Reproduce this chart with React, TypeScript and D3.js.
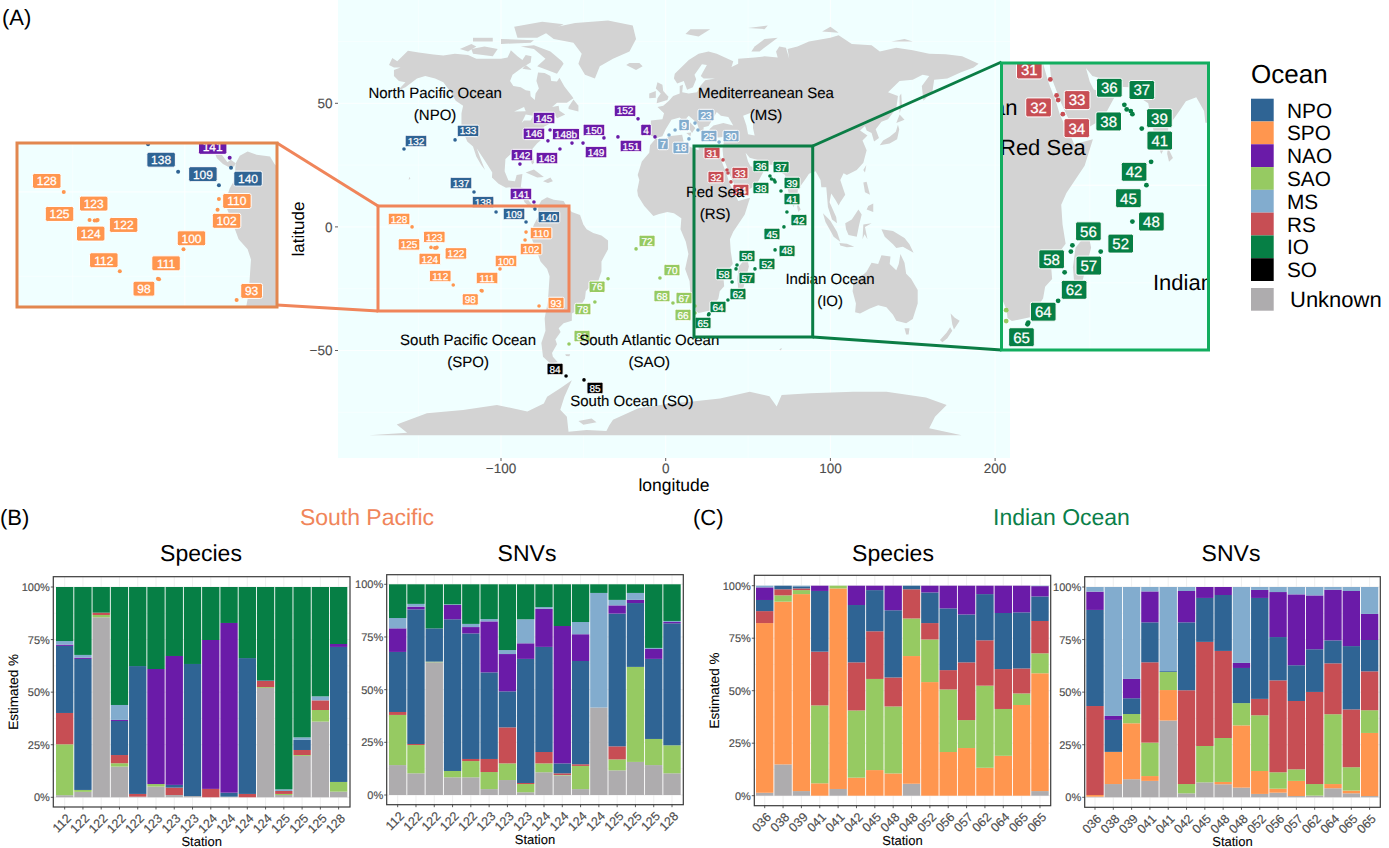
import React from "react";
import * as d3 from "d3";

// ---------- DATA ----------
const oceanKeys = ["NPO", "SPO", "NAO", "SAO", "MS", "RS", "IO", "SO"];
const oceanColors: Record<string, string> = {
  NPO: "#2F6494", SPO: "#FF964F", NAO: "#6A1BA8", SAO: "#96CA62", MS: "#82ACCE",
  RS: "#C74E54", IO: "#067F45", SO: "#000000", Unknown: "#AEACAE",
};
const stackKeys = ["Unknown", "SPO", "SAO", "RS", "NPO", "NAO", "MS", "IO"];

const southPacificStations = ["112","122","122","122","122","123","123","123","124","124","124","124","125","125","125","128"];
const indianStations = ["036","038","039","041","041","042","045","048","048","052","056","057","062","064","065","065"];

const spSpecies = {
  Unknown: [1,2.6,85.6,14.6,.3,5.1,1.1,.6,0,.3,0,52,1.1,19.7,36,2.7],
  SAO: [24.2,.9,1.1,1.6,0,1.2,0,0,0,0,0,.4,.5,.4,5.5,4.6],
  RS: [14.9,0,1.1,3.9,1.3,0,3.5,0,4,0,1.6,2.9,1.4,2.4,4.6,0],
  NPO: [31.9,62.3,0,16.2,60.8,0,1.3,62.8,0,1.9,64.6,.3,0,4.8,0,64.2],
  NAO: [.6,.6,0,.5,0,54.7,61.3,0,70.8,80.7,0,0,0,0,0,1.4],
  MS: [1.7,1.3,0,7.1,0,0,0,0,0,0,0,0,.8,1.2,1.9,0],
  IO: [25.7,32.3,12.2,56.1,37.6,39,32.8,36.6,25.2,17.1,33.8,44.4,96.2,71.5,52,27.1],
};
const spSnvs = {
  Unknown: [14.2,10.3,63,8.4,8.4,2.8,7.1,1.3,10.8,9.3,2.8,41.5,11.7,15.7,14.2,10.3],
  SAO: [23.8,13.4,.3,3,7.7,8.1,7.9,3.9,4.2,.2,11,0,5.2,45.1,12.4,13.3],
  RS: [1.4,.5,0,0,1,6.2,17.1,.5,5.4,.8,.8,0,6.2,0,0,0],
  NPO: [28.5,63.9,15.8,72,59.6,41.1,17.1,58.9,49.9,4.7,49,0,63,30.3,38,57.9],
  NAO: [11.2,1.3,0,6.8,3,24.2,17.7,7.4,18.1,65.2,12.7,0,3.9,1.5,4.7,.6],
  MS: [4.9,1.3,0,.3,1.5,1.1,1.9,11.4,.8,0,5.8,54.4,2.6,3.3,.5,.5],
  IO: [16,9.3,20.9,9.5,18.8,16.5,31.2,16.6,10.8,19.8,17.9,4.1,7.4,4.1,30.2,17.4],
};
const ioSpecies = {
  Unknown: [1.4,14.9,2.2,0,3.2,0,0,0,5.7,0,0,0,0,0,0,2.2],
  SPO: [80.8,77.5,93.8,5.9,95.5,8.6,12.2,10.6,60.8,54.1,20.8,22.7,13.3,19,43.2,56.1],
  SAO: [0,3,1.9,37.1,1.3,32,43.4,31.9,17.9,20.3,29.8,13.3,39.1,22.3,5.5,9.5],
  RS: [5.7,2.9,.8,25.6,0,22.9,22.7,13.8,13.9,7.8,9.2,27.5,21.6,19,11.9,15.4],
  NPO: [5.3,1.7,1,28.9,0,27.3,19.6,32,1.7,14.6,29.4,22.8,22,26.7,26.7,11.7],
  NAO: [6,0,0,2.5,0,9.2,2.1,11.7,0,3.2,10.8,13.7,4,13,12.7,4.9],
  MS: [.8,0,.3,0,0,0,0,0,0,0,0,0,0,0,0,.2],
};
const ioSnvs = {
  Unknown: [.3,6.3,8.6,7.8,36.5,1.9,7.1,6.2,4.6,1.6,2.2,.6,.8,4.3,1.9,.6],
  SPO: [.8,15.3,26.6,2.3,14.5,0,0,1.1,29.6,10.9,1.9,7.2,0,2,1.3,30],
  SAO: [0,0,4.4,15.9,8.6,4.4,17.3,20.9,10.6,26.5,7.8,5.5,5.5,33.2,11.1,10.8],
  RS: [42.3,0,0,38.2,0,44.6,49.5,41.4,0,7.8,43.7,32.5,43.8,24.2,27.5,18.5],
  NPO: [45.7,15.2,7.5,19,.4,32.3,20.9,26.6,16.7,48,20.6,17,20.3,10.9,30.1,14.9],
  NAO: [8.7,1.9,9.2,14.7,0,14.9,5.2,3.8,2.4,3.8,21.4,33.7,25.6,24.1,26.2,12.4],
  MS: [2.2,61.3,43.7,2.1,40,1.9,0,0,36.1,1.4,2.4,3.5,4,1.3,1.9,12.8],
};

const yTickValues = [0, 25, 50, 75, 100];
const lonTicks = [-100, 0, 100, 200];
const latTicks = [-50, 0, 50];
const lonMinor = [-150, -50, 50, 150];
const latMinor = [-75, -25, 25, 75];

// id, ocean, longitude, latitude
const stations: [string, string, number, number][] = [
  ["132","NPO",-158.9,31.5],["133","NPO",-127.9,35.2],["137","NPO",-116.4,14.1],["138","NPO",-103,6],
  ["109","NPO",-84.8,2],["140","NPO",-79.4,7.2],["141","NAO",-80,10.1],["145","NAO",-70.2,39.2],
  ["146","NAO",-71.5,34.8],["148b","NAO",-56.9,33.9],["148","NAO",-64.2,31.5],["150","NAO",-37.5,36],
  ["149","NAO",-50.2,33.9],["151","NAO",-29,36.4],["152","NAO",-16.8,43.7],["4","NAO",-6.5,36.4],
  ["142","NAO",-88.5,25.4],["7","MS",2,37.2],["9","MS",5.7,39.2],["18","MS",14.1,35.6],
  ["23","MS",17.8,42],["25","MS",19.6,39.2],["30","MS",32.4,34.3],["31","RS",34.8,27.1],
  ["32","RS",37.2,23],["33","RS",37.8,21.8],["34","RS",39.6,18.2],["36","IO",63.3,20.6],
  ["38","IO",64.2,19.4],["37","IO",65.8,19],["39","IO",66.4,18.2],["41","IO",70,14.5],
  ["42","IO",73.6,6],["45","IO",71.8,0],["48","IO",66.4,-9.3],["52","IO",54.2,-17],
  ["56","IO",43.3,-15.4],["57","IO",42.7,-17],["58","IO",40.3,-22.3],["62","IO",37.8,-29.6],
  ["64","IO",26.3,-35.2],["65","IO",26,-35.6],["72","SAO",-18,-8.9],["70","SAO",-3.5,-20.7],
  ["76","SAO",-35,-21],["78","SAO",-43,-30.4],["68","SAO",4.4,-30.8],["67","SAO",17.8,-32],
  ["66","SAO",17.8,-34.8],["81","SAO",-58.7,-47.4],["84","SO",-60.5,-60.3],["85","SO",-49.6,-61.9],
  ["128","SPO",-154,0],["123","SPO",-139.3,-8.5],["125","SPO",-142.5,-8.3],["124","SPO",-140.2,-8.5],
  ["122","SPO",-138.9,-8.3],["112","SPO",-129,-23.5],["111","SPO",-111.5,-25.9],["98","SPO",-112,-25.7],
  ["100","SPO",-100.6,-17],["110","SPO",-84.8,-2.1],["102","SPO",-85.4,-5.3],["93","SPO",-76.9,-32],
];

const regionTitles: { lines: string[]; lon: number; lat: number }[] = [
  { lines: ["North Pacific Ocean", "(NPO)"], lon: -140, lat: 54.2 },
  { lines: ["Mediterreanean Sea", "(MS)"], lon: 60.9, lat: 54.2 },
  { lines: ["Red Sea", "(RS)"], lon: 30, lat: 14.1 },
  { lines: ["Indian Ocean", "(IO)"], lon: 99.8, lat: -21.1 },
  { lines: ["South Pacific Ocean", "(SPO)"], lon: -120, lat: -45.7 },
  { lines: ["South Atlantic Ocean", "(SAO)"], lon: -10, lat: -45.7 },
  { lines: ["South Ocean (SO)"], lon: -20.5, lat: -70.4 },
];

type Ring = [number, number][];
const landRings: Ring[] = [
  // North America
  [[-168,65.5],[-166,68.3],[-163,67],[-156.5,71.3],[-150,70.5],[-141,69.7],[-135,69.3],[-128,70],[-120,69.5],[-115,68],[-108,68],[-100,68],[-96,68.5],[-94,71.5],[-90,69],[-87,67.5],[-85,69.5],[-81.5,69],[-82,66.5],[-87,64.5],[-93,61.5],[-94.5,59],[-92.5,57],[-88,56.5],[-85,55.3],[-82.3,55],[-82,52.9],[-79.5,51.3],[-79,54],[-77,56],[-78.5,59],[-77.5,62.5],[-73.5,62.3],[-70,61],[-69.5,59],[-66,58.8],[-64.5,60.3],[-61.5,56.8],[-57,53],[-56,52],[-60,50.2],[-66,50.2],[-69,48.5],[-65,49],[-64.5,47],[-61,45.5],[-66,44],[-67,45],[-70,43.5],[-71,41.5],[-74,40.5],[-76,37],[-76,35],[-78,33.8],[-81,31.5],[-80,26],[-81,25.2],[-82.7,27.8],[-84,30],[-89,30.2],[-90,29],[-94,29.5],[-97.3,27.5],[-97.8,22.5],[-95.5,18.8],[-91.5,18.5],[-90.5,21],[-87,21.4],[-88,16],[-83.5,15.2],[-83.5,11],[-81,8.8],[-79.5,9.5],[-77.3,8.5],[-78,7.5],[-80.3,7.3],[-83,8.3],[-85.7,10],[-87.5,13],[-91.5,14],[-94.5,16],[-97,15.8],[-101.5,17.5],[-105.5,20],[-105.3,22],[-109,26],[-112.5,29.5],[-114.7,31.7],[-112.2,27.2],[-109.7,23],[-112,25],[-115,28.5],[-117,32.5],[-120.5,34.5],[-124,40],[-124,46],[-123,49],[-127.5,51],[-130.5,54.5],[-135,58.5],[-140,60],[-146,61],[-151,60],[-154,58.5],[-158,56.5],[-163,55],[-158,58.5],[-162,59],[-165,61],[-165,63.5],[-161,64.5],[-165,64.5]],
  // South America
  [[-77.3,8.5],[-75.5,10.7],[-72,12],[-68,11],[-62,10.5],[-60,8.3],[-57,6],[-52,4.8],[-50,1],[-48,-1],[-44,-2.5],[-39,-3.5],[-35,-5.5],[-35,-9],[-39,-14],[-39,-18],[-41,-22],[-45,-23.5],[-48.5,-26],[-49,-29],[-53,-33.5],[-57,-35],[-57,-38],[-62,-39],[-65,-41],[-63.8,-42.5],[-67,-45.5],[-66,-47.5],[-69,-51],[-68.5,-52.5],[-65.5,-54.8],[-70,-55.3],[-74.5,-52.5],[-75.5,-47],[-73,-42],[-73.5,-37],[-71.5,-30],[-70.5,-20],[-72,-17],[-76,-14],[-78.5,-9.5],[-81.2,-5],[-80,-3],[-81,-1],[-80,1],[-77.5,4],[-77.5,7]],
  // Africa
  [[-6,35.8],[-2,35],[3,36.8],[10,37.3],[11,34],[15,32.3],[20,31],[20,32.7],[25,31.8],[32,31.2],[32.5,30],[34,26.5],[37.2,21],[38.5,18],[43,12],[44,10.5],[51.2,11.8],[48,5],[41,-2],[39,-5],[39.5,-10],[40.7,-15],[35,-20],[35.5,-24],[32.8,-26],[32,-29],[27,-33.8],[20,-34.8],[18.3,-34],[18,-32],[15,-27],[14.5,-22],[11.8,-17],[13.8,-11],[12.2,-6],[9,-1],[9.5,3.5],[5,5.5],[1,6],[-4,5.2],[-7.5,4.4],[-13,8.5],[-16.8,12.5],[-17.3,14.7],[-16,19],[-17,21],[-14.5,26.5],[-10,30],[-9.5,33]],
  // Eurasia
  [[-9,37],[-9,43],[-2,43.5],[-1,46],[-5,48.5],[-1.5,49],[2,51],[4.5,53],[8.5,54],[8.5,57],[10.5,57.5],[10,54.5],[14,54],[19,54.5],[21,57],[24,59.3],[30,60],[23,60],[21.3,61],[25,65.5],[22,65.8],[17.5,61.5],[18.5,59.7],[16.5,56.5],[13,55.5],[11,59],[7,58],[5,60],[5.5,62],[14,67.5],[20,70],[26,71],[31,70],[41,67],[40,64.7],[44,66],[44,68],[54,68.5],[60,69],[68,68.5],[67,71],[69,73],[73,72.5],[75,68],[74,72],[80,73],[87,75],[100,76.5],[105,77.5],[113,74],[125,73.5],[130,71],[140,72.5],[150,71.5],[160,70],[170,69.8],[180,69],[190,66],[187,64.5],[179,62.5],[171,60],[163,59.5],[162,55],[156.5,51],[155.5,57],[160,61],[156,61.5],[150,59.5],[142,59],[135,54.5],[141,53],[140,48],[135,43.5],[131,42.5],[127.5,39.5],[129.5,36],[126.5,34.5],[125,38],[122,39],[121,40.8],[118,39],[122.5,37],[119.5,35],[122,31],[120,26],[116,23],[110,21],[108,21.7],[106,19],[109,13],[106,10],[105,8.7],[103,11],[100.5,13.5],[99.5,10],[103.5,4],[104,1.5],[101,3],[98.5,8],[97.5,16],[94.5,16],[94,19],[91,22.5],[87,21.5],[85,19.5],[80.2,15],[80,11],[77.5,8],[75,12.5],[73,19],[72.5,21],[69,22.5],[67,25],[61,25.2],[57,25.5],[56.3,27],[51,28],[48.5,30],[50,26.5],[51.5,24.5],[54,24],[56.3,26],[59.5,22.5],[55,17],[45,13],[43,13],[42.5,16],[39,21],[35,28],[34.5,31.5],[36,36.5],[32,36.2],[28,36.5],[26.5,39.5],[29,41],[35,42],[41,41],[38,44.5],[33.5,45],[31,46.5],[28,43],[26,40.8],[23,40.3],[23,37],[20,40],[19,42],[14,45],[12.5,44],[18,40],[16,38],[12,42],[8.5,44.3],[3.5,43.3],[0,39.5],[-2,36.7],[-5.5,36]],
  // Greenland and Arctic
  [[-73,78.5],[-66,81],[-55,82.5],[-35,83.5],[-20,81.5],[-18,76],[-22,71],[-32,68],[-40,65],[-43,60],[-49,61.5],[-53,66],[-51,70],[-56,74.5],[-68,76]],
  [[-62,66],[-66,62],[-72,63.5],[-78,65],[-73,68],[-80,72],[-88,73],[-80,73.5],[-70,71],[-63,67]],
  [[-117,70],[-105,69],[-102,72],[-110,73],[-118,72]],
  [[-125,72],[-118,74],[-115,73],[-120,71]],
  [[-90,76.5],[-78,76.5],[-62,82],[-75,83],[-92,81]],
  [[-100,74],[-82,74.5],[-80,75.5],[-100,76]],
  [[-117,75],[-105,75],[-105,76.5],[-117,76.5]],
  [[-87,64],[-81,63.5],[-85,65.5]],
  [[-59,47.7],[-53,46.7],[-53,49],[-56,51.5],[-59,48.5]],
  [[-24,65.5],[-18,63.5],[-14,65],[-16,66.3],[-22,66.3]],
  [[-5.5,50],[1,51.3],[1.7,52.7],[-1.5,55],[-2,57.5],[-5,58.5],[-6,56],[-3,54],[-5,52]],
  [[-10,52],[-6,52.2],[-6,55],[-10,54]],
  [[12,78],[20,77],[27,80],[15,80]],
  [[52,71],[57,71],[68,76.5],[60,76],[54,73]],
  [[95,79],[105,78.5],[100,81]],
  [[50,80.5],[60,80],[62,81.5]],
  [[137,75],[150,75],[145,76]],
  [[142,46],[143.5,49],[143,54],[142,53]],
  // Asia-Pacific islands
  [[130,33],[136,33.7],[140.5,35.5],[141.8,39.5],[141,41.3],[139.7,38.5],[136,36.5],[132,35]],
  [[140,42],[145,43.3],[142,45.5]],
  [[120,23],[121.8,25],[121,22]],
  [[120,18],[122,18.3],[124,13],[121,14]],
  [[122,7],[126,6],[126,9.5],[123,8.5]],
  [[95.5,5.5],[100,2.5],[104,-2],[106,-6],[102,-4],[97,2]],
  [[105.5,-6.5],[110,-6.8],[114.5,-8],[110,-8.2],[106,-7.5]],
  [[109,1.5],[113,3],[117,7],[119,5],[117.5,1],[116,-4],[111,-3.3],[109.5,-1]],
  [[119.5,-5],[120,1],[125,1.5],[121,0],[122.5,-5],[120.7,-3]],
  [[131,-1],[138,-1.7],[145,-4.5],[148,-7],[150.5,-10.5],[144,-8],[140,-8.5],[138,-7],[133,-4]],
  [[80,9.7],[82,7],[80.5,6],[79.8,8]],
  [[49.3,-12],[50.5,-16],[47,-25],[44,-25],[43.5,-21],[44.5,-16]],
  // Australia and NZ
  [[114,-22],[113.5,-26],[115.5,-31],[115,-34.5],[118,-35],[124,-33],[129,-31.7],[134,-32.5],[138,-35.5],[140,-38],[146,-39],[150,-37.3],[153,-31],[153,-25.5],[149,-21],[146,-19],[145,-14.5],[142.5,-11],[141.5,-15],[140,-17.5],[136,-15],[136.5,-12],[131,-11.5],[129,-15],[125,-14.5],[122,-18],[119,-20]],
  [[145,-41],[148,-41],[147.5,-43.5],[146,-43.5]],
  [[173,-35],[175.5,-36.8],[178.5,-38],[175,-41.5],[174,-39.5]],
  [[172.7,-40.6],[174,-42],[171,-45],[168,-46.7],[166.5,-45.8],[170.5,-42.8]],
  // Caribbean, small islands
  [[-85,22],[-80,23.2],[-74,20.2],[-78,20]],
  [[-74.5,18.5],[-70,20],[-68.5,18.5],[-71.5,17.8]],
  [[-156,19],[-155,19.7],[-155.8,20.2]],
  [[-61,-51.5],[-58,-51.5],[-58.5,-52.3],[-60.5,-52.2]],
  [[69,-49.5],[70.5,-49],[70,-50]],
  [[12.5,38],[15.5,38.2],[15,36.7]],
  [[8.3,41],[9.7,41],[9.5,39],[8.4,39]],
  [[23.5,35.5],[26.2,35.3],[24,35]],
  // Antarctica
  [[-180,-84.3],[-157,-83.3],[-163.3,-79.9],[-145,-75.4],[-123,-74.1],[-102.5,-72],[-84,-74.7],[-74,-71.4],[-72,-68.7],[-64,-65.3],[-57,-62],[-61.5,-68.7],[-64,-74],[-60,-76.8],[-59,-82.9],[-48,-82.2],[-36,-82.6],[-34.3,-80.3],[-32,-78],[-16.6,-73.4],[2.6,-71.4],[14.7,-70.7],[33,-69.4],[51,-66.7],[63,-68.5],[67.4,-72.7],[70.4,-68],[87.6,-67.3],[114,-66.7],[134,-66.7],[158,-69],[170.6,-72],[163.5,-76.8],[160,-81.5],[179.7,-84.3]],
  [[-53,-78.5],[-45,-77.5],[-42,-79],[-50,-80]],
];
const waterRings: Ring[] = [
  [[47,45],[53,46.5],[53,40],[54,37],[50,37.5],[49,41]],
  [[-92,46.7],[-85,46.8],[-86,48.5]],
  [[-87.5,42],[-85,45.5],[-80.5,45],[-82,43],[-86,43]],
];

const mainNudges: Record<string, [number, number]> = {
  "132":[12,-8],"133":[13,-9],"137":[-13,-9],"138":[-13,-10],"109":[-12,-8],"140":[14,8],"141":[-13,-8],
  "145":[-6,-12],"146":[-14,-7],"148b":[-6,-9],"148":[-13,9],"150":[-10,-8],"149":[13,9],"151":[13,9],
  "152":[-13,-8],"4":[-9,-7],"142":[2,-9],"7":[-6,9],"9":[9,-5],"18":[-8,9],"23":[11,-8],"25":[11,6],
  "30":[12,-6],"31":[-11,-7],"32":[-11,7],"33":[12,0],"34":[10,8],"36":[-9,-10],"37":[7,-13],"38":[-10.5,9],
  "39":[17,1],"41":[11,8],"42":[12,8],"45":[-12,7],"48":[12,1],"52":[12,-5],"56":[10,-9],"57":[11,9],
  "58":[-8,-8],"62":[10,-6],"64":[9,-7],"65":[-5.5,8],"72":[11,-8],"70":[12,-8],"76":[-11,8],"78":[-12,7],
  "68":[-11,-7],"67":[-11,-8],"66":[-12,2],"81":[13,-8],"84":[-11,-7],"85":[11,8],"128":[-13,-8],"123":[-2,-11],
  "125":[-22,-3],"124":[-5,11],"122":[19,6],"112":[-13,-9],"111":[5,-13],"98":[-11,9],"100":[6,-8],"110":[15,1],
  "102":[6,9],"93":[17,-3],
};
const spoNudges: Record<string, [number, number]> = {
  "138":[-17,-12],"109":[-16,-11],"141":[-17,-11],"140":[17,11],"128":[-17,-11],"123":[-3,-17],"125":[-30,-6],
  "124":[-4,13],"122":[26,5],"112":[-16,-11],"111":[7,-16],"98":[-14,10],"100":[8,-11],"110":[18,2],"102":[9,11],"93":[15,-9],
};
const ioNudges: Record<string, [number, number]> = {
  "65":[-6,13],"64":[15,-11],"62":[16,-11],"58":[-13,-13],"57":[18,14],"56":[16,-14],"52":[20,-8],"48":[19,0],
  "45":[-18,13],"42":[-17,10],"41":[18,12],"39":[27,4],"38":[-18,12],"37":[11,-21],"36":[-15,-17],"34":[14,14],
  "33":[19,0],"32":[-18,12],"31":[-21,-10],
};

// ---------- LAYOUT ----------
const FONT = '"Liberation Sans", Arial, Helvetica, sans-serif';
const PANEL_BG = "#F0FFFF";
const LAND = "#D3D3D3";
const AX = "#4d4d4d";

const lonScale = d3.scaleLinear().domain([0, 100]).range([665.7, 830.4]);
const latScale = d3.scaleLinear().domain([0, 50]).range([226.9, 103.3]);
const mainBox = { x0: 338, x1: 1010, y0: 0, y1: 458 };

const spoFrame = { x0: 17, x1: 277, y0: 143, y1: 307 };
const spoLon = d3.scaleLinear().domain([-175.3, -59]).range([spoFrame.x0 - 1, spoFrame.x0 + 159 * 1.64 - 1]);
const spoLat = d3.scaleLinear().domain([14.5, -34.1]).range([spoFrame.y0, spoFrame.y1]);
const ioFrame = { x0: 1001.5, x1: 1208.5, y0: 63, y1: 350 };
const ioLon = d3.scaleLinear().domain([16, 95.7]).range([ioFrame.x0, ioFrame.x1]);
const ioLat = d3.scaleLinear().domain([31.3, -42.2]).range([ioFrame.y0, ioFrame.y1]);

const barPanels = [
  { stationsList: southPacificStations, values: spSpecies, left: 53.3, right: 350, top: 576.7, bottom: 807, y100: 587, y0: 797.3, bar0: 56, bar1: 347.3, yTitle: true },
  { stationsList: southPacificStations, values: spSnvs, left: 386.7, right: 683.3, top: 574.7, bottom: 804.7, y100: 584.3, y0: 795, bar0: 389, bar1: 680.7, yTitle: false },
  { stationsList: indianStations, values: ioSpecies, left: 754.3, right: 1050.7, top: 575.3, bottom: 805.7, y100: 585.7, y0: 795.7, bar0: 756, bar1: 1048.7, yTitle: true },
  { stationsList: indianStations, values: ioSnvs, left: 1084.7, right: 1380.3, top: 576.7, bottom: 807.3, y100: 587, y0: 797.3, bar0: 1086.3, bar1: 1378.3, yTitle: false },
];

// ---------- MAP ----------
function MapLayer({ xs, ys, box, id, nudges, pointR, fontSize, boxH, pad, gridW, radius }: any) {
  const line = d3.line<[number, number]>().x((d) => xs(d[0])).y((d) => ys(d[1])).curve(d3.curveLinearClosed);
  return (
    <g clipPath={`url(#${id})`}>
      <rect x={box.x0} y={box.y0} width={box.x1 - box.x0} height={box.y1 - box.y0} fill={PANEL_BG} />
      {lonMinor.map((v) => <line key={"a" + v} x1={xs(v)} x2={xs(v)} y1={box.y0} y2={box.y1} stroke="#fff" strokeWidth={gridW / 2} />)}
      {latMinor.map((v) => <line key={"b" + v} y1={ys(v)} y2={ys(v)} x1={box.x0} x2={box.x1} stroke="#fff" strokeWidth={gridW / 2} />)}
      {lonTicks.map((v) => <line key={"c" + v} x1={xs(v)} x2={xs(v)} y1={box.y0} y2={box.y1} stroke="#fff" strokeWidth={gridW} />)}
      {latTicks.map((v) => <line key={"d" + v} y1={ys(v)} y2={ys(v)} x1={box.x0} x2={box.x1} stroke="#fff" strokeWidth={gridW} />)}
      {landRings.map((r, i) => <path key={"l" + i} d={line(r) as string} fill={LAND} />)}
      {waterRings.map((r, i) => <path key={"w" + i} d={line(r) as string} fill={PANEL_BG} />)}
      {stations.map(([sid, ocean, lon, lat]) => (
        <circle key={"p" + sid} cx={xs(lon)} cy={ys(lat)} r={pointR} fill={oceanColors[ocean]} />
      ))}
      {stations.filter(([sid]) => nudges[sid]).map(([sid, ocean, lon, lat]) => {
        const [dx, dy] = nudges[sid];
        const w = sid.length * fontSize * 0.556 + pad;
        const cx = xs(lon) + dx;
        const cy = ys(lat) + dy;
        return (
          <g key={"t" + sid}>
            <rect x={cx - w / 2} y={cy - boxH / 2} width={w} height={boxH} rx={radius} fill={oceanColors[ocean]} stroke="#fff" strokeWidth={1} />
            <text x={cx} y={cy} dy="0.36em" textAnchor="middle" fontSize={fontSize} fill="#fff" stroke="#fff" strokeWidth={0.25}>{sid}</text>
          </g>
        );
      })}
    </g>
  );
}

function RegionTitles() {
  return (
    <g fontSize={15} fill="#000" textAnchor="middle" stroke="#000" strokeWidth={0.12}>
      {regionTitles.map((r) => (
        <text key={r.lines[0]} x={lonScale(r.lon)} y={latScale(r.lat)}>
          {r.lines.map((l, i) => (
            <tspan key={l} x={lonScale(r.lon)} dy={i === 0 ? "0.36em" : 22}>{l}</tspan>
          ))}
        </text>
      ))}
    </g>
  );
}

function BarPanel({ p }: { p: (typeof barPanels)[number] }) {
  const n = p.stationsList.length;
  const xBand = d3.scaleBand<number>().domain(d3.range(n)).range([p.bar0, p.bar1]).paddingInner(0.05);
  const y = d3.scaleLinear().domain([0, 100]).range([p.y0, p.y100]);
  const keys = stackKeys.filter((k) => (p.values as any)[k]);
  const rows = d3.range(n).map((i) => {
    const o: any = { i };
    keys.forEach((k) => (o[k] = (p.values as any)[k][i]));
    return o;
  });
  const series = d3.stack<any>().keys(keys)(rows);
  const cx = (i: number) => (xBand(i) as number) + xBand.bandwidth() / 2;
  return (
    <g>
      <rect x={p.left} y={p.top} width={p.right - p.left} height={p.bottom - p.top} fill="#fff" />
      {yTickValues.map((v) => <line key={"g" + v} x1={p.left} x2={p.right} y1={y(v)} y2={y(v)} stroke="#ebebeb" strokeWidth={0.8} />)}
      {yTickValues.slice(0, -1).map((v) => <line key={"m" + v} x1={p.left} x2={p.right} y1={y(v + 12.5)} y2={y(v + 12.5)} stroke="#ebebeb" strokeWidth={0.4} />)}
      {d3.range(n).map((i) => <line key={"v" + i} x1={cx(i)} x2={cx(i)} y1={p.top} y2={p.bottom} stroke="#ebebeb" strokeWidth={0.8} />)}
      {series.map((s) => (
        <g key={s.key} fill={oceanColors[s.key]}>
          {s.map((d, i) => (
            d[1] - d[0] > 0 ? <rect key={i} x={xBand(i)} y={y(d[1])} width={xBand.bandwidth()} height={y(d[0]) - y(d[1])} /> : null
          ))}
        </g>
      ))}
      <rect x={p.left} y={p.top} width={p.right - p.left} height={p.bottom - p.top} fill="none" stroke="#3a3a3a" strokeWidth={1.2} />
      {yTickValues.map((v) => (
        <g key={"y" + v}>
          <line x1={p.left - 2.5} x2={p.left} y1={y(v)} y2={y(v)} stroke="#333" strokeWidth={0.8} />
          <text x={p.left - 3.5} y={y(v)} dy="0.36em" textAnchor="end" fontSize={11} fill={AX} stroke={AX} strokeWidth={0.15}>{v}%</text>
        </g>
      ))}
      {p.stationsList.map((s, i) => (
        <g key={"x" + i}>
          <line x1={cx(i)} x2={cx(i)} y1={p.bottom} y2={p.bottom + 2.5} stroke="#333" strokeWidth={0.8} />
          <text transform={`translate(${cx(i) + 4},${p.bottom + 9}) rotate(-45)`} textAnchor="end" dy="0.36em" fontSize={12.5} fill={AX} stroke={AX} strokeWidth={0.15}>{s}</text>
        </g>
      ))}
      <text x={(p.left + p.right) / 2} y={p.bottom + 34.5} dy="0.36em" textAnchor="middle" fontSize={13} fill="#000" stroke="#000" strokeWidth={0.1}>Station</text>
      {p.yTitle && (
        <text transform={`translate(${p.left - 40.6},${(p.top + p.bottom) / 2}) rotate(-90)`} dy="0.36em" textAnchor="middle" fontSize={13.5} fill="#000" stroke="#000" strokeWidth={0.1}>Estimated %</text>
      )}
    </g>
  );
}

function Legend() {
  const keyX = 1251;
  const keyW = 22.7;
  const keyY = d3.scaleBand<string>().domain(oceanKeys).range([98.7, 281]);
  return (
    <g>
      <text x={keyX} y={74} dy="0.36em" fontSize={26} fill="#000">Ocean</text>
      {oceanKeys.map((k) => (
        <g key={k}>
          <rect x={keyX} y={keyY(k)} width={keyW} height={keyY.bandwidth()} fill={oceanColors[k]} />
          <text x={1287} y={(keyY(k) as number) + keyY.bandwidth() / 2} dy="0.36em" fontSize={20.8} fill="#000">{k}</text>
        </g>
      ))}
      <rect x={keyX} y={288} width={keyW} height={keyW} fill={oceanColors.Unknown} />
      <text x={1290} y={299.3} dy="0.36em" fontSize={22} fill="#000">Unknown</text>
    </g>
  );
}

export default function App() {
  const boxClip = (id: string, b: any) => (
    <clipPath id={id}><rect x={b.x0} y={b.y0} width={b.x1 - b.x0} height={b.y1 - b.y0} /></clipPath>
  );
  const ORANGE = "#F0855A";
  const ORANGE_F = "#E2874F";
  const GREEN = "#0A7D45";
  const GREEN_F = "#12AD5F";
  return (
    <svg width={1389} height={848} viewBox="0 0 1389 848" style={{ position: "absolute", left: 0, top: 0, display: "block", textRendering: "geometricPrecision" }} fontFamily={FONT}>
      <defs>
        {boxClip("mainClip", mainBox)}
        {boxClip("spoClip", spoFrame)}
        {boxClip("ioClip", ioFrame)}
      </defs>
      <rect x={0} y={0} width={1389} height={848} fill="#fff" />

      {/* main map */}
      <MapLayer xs={lonScale} ys={latScale} box={mainBox} id="mainClip" nudges={mainNudges} pointR={1.8} fontSize={10} boxH={11.5} pad={5} gridW={0.8} radius={1.5} />
      <RegionTitles />
      {latTicks.map((v) => (
        <g key={"ly" + v}>
          <line x1={335} x2={mainBox.x0} y1={latScale(v)} y2={latScale(v)} stroke="#333" strokeWidth={0.8} />
          <text x={332.5} y={latScale(v)} dy="0.36em" textAnchor="end" fontSize={13.5} fill={AX} stroke={AX} strokeWidth={0.12}>{v < 0 ? `\u2212${-v}` : v}</text>
        </g>
      ))}
      {lonTicks.map((v) => (
        <g key={"lx" + v}>
          <line x1={lonScale(v)} x2={lonScale(v)} y1={mainBox.y1} y2={mainBox.y1 + 3} stroke="#333" strokeWidth={0.8} />
          <text x={lonScale(v)} y={468.5} dy="0.36em" textAnchor="middle" fontSize={13.5} fill={AX} stroke={AX} strokeWidth={0.12}>{v < 0 ? `\u2212${-v}` : v}</text>
        </g>
      ))}
      <text x={674} y={485} dy="0.36em" textAnchor="middle" fontSize={17.5} fill="#000">longitude</text>
      <text transform="translate(298,229) rotate(-90)" dy="0.36em" textAnchor="middle" fontSize={17} fill="#000">latitude</text>

      {/* connectors */}
      <line x1={277} y1={143} x2={378} y2={206} stroke={ORANGE} strokeWidth={3} />
      <line x1={277} y1={305} x2={378} y2={311} stroke={ORANGE} strokeWidth={3} />
      <line x1={812.7} y1={146} x2={1001.5} y2={62} stroke={GREEN} strokeWidth={3} />
      <line x1={812.7} y1={337} x2={1001.5} y2={350} stroke={GREEN} strokeWidth={3} />

      {/* region boxes on the main map */}
      <rect x={378} y={206} width={191} height={105} fill="none" stroke={ORANGE} strokeWidth={3} />
      <rect x={694} y={146} width={118.7} height={191} fill="none" stroke={GREEN} strokeWidth={3} />

      {/* South Pacific inset */}
      <MapLayer xs={spoLon} ys={spoLat} box={spoFrame} id="spoClip" nudges={spoNudges} pointR={2} fontSize={12} boxH={15} pad={8.5} gridW={0.9} radius={2} />
      <rect x={spoFrame.x0} y={spoFrame.y0} width={spoFrame.x1 - spoFrame.x0} height={spoFrame.y1 - spoFrame.y0} fill="none" stroke={ORANGE_F} strokeWidth={3} />

      {/* Indian Ocean inset */}
      <MapLayer xs={ioLon} ys={ioLat} box={ioFrame} id="ioClip" nudges={ioNudges} pointR={2.4} fontSize={15} boxH={19} pad={9} gridW={1} radius={2} />
      <g clipPath="url(#ioClip)" fontSize={22} fill="#000">
        <text x={1017.5} y={107} dy="0.36em" textAnchor="end">Ocean</text>
        <text x={1000} y={147} dy="0.36em">Red Sea</text>
        <text x={1153} y={282} dy="0.36em">Indian Ocean</text>
      </g>
      <rect x={ioFrame.x0} y={ioFrame.y0} width={ioFrame.x1 - ioFrame.x0} height={ioFrame.y1 - ioFrame.y0} fill="none" stroke={GREEN_F} strokeWidth={3} />

      <Legend />

      {/* panel tags and titles */}
      <text x={2} y={17} dy="0.36em" fontSize={22} fill="#000">(A)</text>
      <text x={0} y={517} dy="0.36em" fontSize={22} fill="#000">(B)</text>
      <text x={693} y={517} dy="0.36em" fontSize={22} fill="#000">(C)</text>
      <text x={367} y={517} dy="0.36em" textAnchor="middle" fontSize={23} fill={ORANGE}>South Pacific</text>
      <text x={1061.5} y={517} dy="0.36em" textAnchor="middle" fontSize={23} fill="#0B7F4A">Indian Ocean</text>
      <text x={201} y={553} dy="0.36em" textAnchor="middle" fontSize={23} fill="#000">Species</text>
      <text x={527} y={553} dy="0.36em" textAnchor="middle" fontSize={23} fill="#000">SNVs</text>
      <text x={893} y={553} dy="0.36em" textAnchor="middle" fontSize={23} fill="#000">Species</text>
      <text x={1231} y={553} dy="0.36em" textAnchor="middle" fontSize={23} fill="#000">SNVs</text>

      {barPanels.map((p, i) => <BarPanel key={i} p={p} />)}
    </svg>
  );
}
